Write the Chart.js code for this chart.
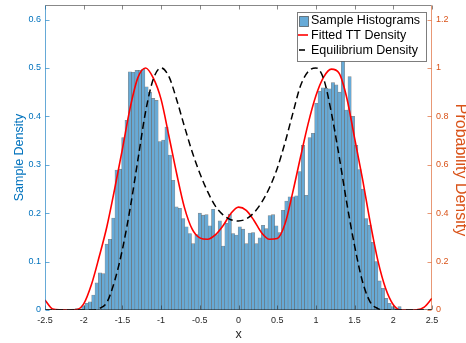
<!DOCTYPE html>
<html>
<head>
<meta charset="utf-8">
<script src="https://cdn.jsdelivr.net/npm/chart.js@4/dist/chart.umd.min.js"></script>
<style>
  html, body { margin: 0; padding: 0; background: #ffffff; }
  #wrap { width: 466px; height: 343px; }
</style>
</head>
<body>
<div id="wrap"><canvas id="c" width="466" height="343"></canvas></div>
<script>
// ---- histogram of samples (left axis) ----
const binStart = -2.155;     // left edge of the first bin
const binWidth = 0.043;      // common bin width
const sampleDensity = [
  0.002, 0.003, 0.002, 0.009, 0.014, 0.017, 0.031, 0.056, 0.077, 0.075,
  0.136, 0.146, 0.190, 0.289, 0.291, 0.356, 0.392, 0.492, 0.491, 0.495,
  0.495, 0.497, 0.461, 0.450, 0.437, 0.433, 0.348, 0.351, 0.378, 0.320,
  0.268, 0.213, 0.210, 0.189, 0.172, 0.158, 0.137, 0.156, 0.200, 0.196,
  0.197, 0.174, 0.208, 0.156, 0.184, 0.132, 0.179, 0.198, 0.158, 0.155,
  0.172, 0.167, 0.137, 0.159, 0.160, 0.137, 0.149, 0.175, 0.168, 0.195,
  0.197, 0.174, 0.160, 0.206, 0.225, 0.234, 0.234, 0.236, 0.286, 0.340,
  0.237, 0.356, 0.365, 0.427, 0.452, 0.459, 0.458, 0.457, 0.470, 0.465,
  0.450, 0.516, 0.413, 0.482, 0.400, 0.340, 0.290, 0.250, 0.189, 0.175,
  0.140, 0.100, 0.060, 0.045, 0.024, 0.014, 0.007, 0.003, 0.007
];

// ---- density curves (right axis) ----
const curveX = [
  -2.5, -2.4, -2.3, -2.2, -2.1, -2.0, -1.9, -1.8, -1.7, -1.6,
  -1.5, -1.4, -1.3, -1.2, -1.1, -1.0, -0.9, -0.8, -0.7, -0.6,
  -0.5, -0.4, -0.3, -0.2, -0.1, 0.0, 0.1, 0.2, 0.3, 0.4,
  0.5, 0.6, 0.7, 0.8, 0.9, 1.0, 1.1, 1.2, 1.3, 1.4,
  1.5, 1.6, 1.7, 1.8, 1.9, 2.0, 2.1, 2.2, 2.3, 2.4, 2.5
];
const fittedTT = [
  0.041, 0.004, 0.001, 0.000, 0.001, 0.025, 0.105, 0.220, 0.345, 0.500,
  0.665, 0.835, 0.960, 1.000, 0.958, 0.870, 0.720, 0.565, 0.425, 0.335,
  0.298, 0.292, 0.310, 0.348, 0.398, 0.425, 0.412, 0.370, 0.318, 0.292,
  0.295, 0.355, 0.485, 0.630, 0.770, 0.885, 0.962, 0.995, 0.978, 0.875,
  0.710, 0.545, 0.365, 0.205, 0.090, 0.022, 0.000, 0.000, 0.001, 0.012, 0.048
];
const equilibrium = [
  0.000, 0.000, 0.000, 0.000, 0.000, 0.000, 0.000, 0.006, 0.032, 0.120,
  0.250, 0.420, 0.620, 0.820, 0.955, 1.000, 0.965, 0.870, 0.760, 0.655,
  0.565, 0.490, 0.430, 0.393, 0.373, 0.368, 0.376, 0.402, 0.445, 0.505,
  0.585, 0.690, 0.810, 0.925, 0.985, 1.000, 0.955, 0.815, 0.635, 0.440,
  0.265, 0.120, 0.034, 0.006, 0.000, 0.000, 0.000, 0.000, 0.000, 0.000, 0.000
];

// ---- axis ticks ----
const xTicks = [-2.5, -2, -1.5, -1, -0.5, 0, 0.5, 1, 1.5, 2, 2.5];
const leftTicks = [0, 0.1, 0.2, 0.3, 0.4, 0.5, 0.6];
const rightTicks = [0, 0.2, 0.4, 0.6, 0.8, 1, 1.2];

const legendLabels = ['Sample Histograms', 'Fitted TT Density', 'Equilibrium Density'];
const rightTitle = 'Probability Density';

const FONT = "'Liberation Sans', Arial, Helvetica, sans-serif";
const BLUE = 'rgb(0,114,189)';
const ORANGE = 'rgb(217,83,25)';
const DARK = '#262626';
const BAR_FILL = 'rgb(102,170,215)';
const BAR_EDGE = 'rgba(38,38,38,0.55)';

const fmt = v => String(+Number(v).toFixed(2));

// frame lines and inward tick marks
const framePlugin = {
  id: 'frame',
  afterDatasetsDraw(chart) {
    const { ctx, chartArea: a, scales } = chart;
    const L = Math.round(a.left) + 0.5, R = Math.round(a.right) - 0.5;
    const T = Math.round(a.top) + 0.5, B = Math.round(a.bottom) - 0.5;
    const tl = 4;
    ctx.save();
    ctx.lineWidth = 1;
    ctx.strokeStyle = 'rgba(38,38,38,0.55)';
    ctx.beginPath();
    ctx.moveTo(L, T); ctx.lineTo(R, T);
    ctx.moveTo(L, B); ctx.lineTo(R, B);
    xTicks.forEach(v => {
      const px = Math.round(scales.x.getPixelForValue(v)) + 0.5;
      ctx.moveTo(px, B); ctx.lineTo(px, B - tl);
      ctx.moveTo(px, T); ctx.lineTo(px, T + tl);
    });
    ctx.stroke();
    ctx.strokeStyle = 'rgba(0,114,189,0.6)';
    ctx.beginPath();
    ctx.moveTo(L, T); ctx.lineTo(L, B);
    leftTicks.forEach(v => {
      const py = Math.round(scales.y.getPixelForValue(v)) + 0.5;
      ctx.moveTo(L, py); ctx.lineTo(L + tl, py);
    });
    ctx.stroke();
    ctx.strokeStyle = 'rgba(217,83,25,0.6)';
    ctx.beginPath();
    ctx.moveTo(R, T); ctx.lineTo(R, B);
    rightTicks.forEach(v => {
      const py = Math.round(scales.y1.getPixelForValue(v)) + 0.5;
      ctx.moveTo(R, py); ctx.lineTo(R - tl, py);
    });
    ctx.stroke();
    ctx.restore();
  }
};

// right-hand axis title, reading top to bottom along the canvas edge
const rightTitlePlugin = {
  id: 'rightTitle',
  afterDraw(chart) {
    const { ctx } = chart;
    ctx.save();
    ctx.translate(460, 170);
    ctx.rotate(Math.PI / 2);
    ctx.fillStyle = ORANGE;
    ctx.font = '16px ' + FONT;
    ctx.textAlign = 'center';
    ctx.textBaseline = 'middle';
    ctx.fillText(rightTitle, 0, 0);
    ctx.restore();
  }
};

// legend box in the upper right corner of the plot
const legendPlugin = {
  id: 'boxLegend',
  afterDraw(chart) {
    const { ctx } = chart;
    const bx = 297.5, by = 12.5, bw = 129, bh = 49;
    ctx.save();
    ctx.fillStyle = '#ffffff';
    ctx.fillRect(bx, by, bw, bh);
    ctx.strokeStyle = 'rgba(38,38,38,0.6)';
    ctx.lineWidth = 1;
    ctx.strokeRect(bx, by, bw, bh);

    const rows = [21, 36, 51];
    ctx.fillStyle = BAR_FILL;
    ctx.fillRect(299.5, 16.5, 9, 10);
    ctx.strokeStyle = BAR_EDGE;
    ctx.strokeRect(299.5, 16.5, 9, 10);
    ctx.strokeStyle = '#ff0000';
    ctx.lineWidth = 1.6;
    ctx.beginPath(); ctx.moveTo(298, 35); ctx.lineTo(308, 35); ctx.stroke();
    ctx.strokeStyle = '#000000';
    ctx.beginPath(); ctx.moveTo(299, 50); ctx.lineTo(305, 50); ctx.stroke();

    ctx.fillStyle = '#000000';
    ctx.font = '12.5px ' + FONT;
    ctx.textBaseline = 'middle';
    ctx.textAlign = 'left';
    legendLabels.forEach((t, i) => ctx.fillText(t, 311, rows[i]));
    ctx.restore();
  }
};

new Chart(document.getElementById('c'), {
  type: 'bar',
  data: {
    datasets: [
      {
        type: 'line',
        label: legendLabels[2],
        data: curveX.map((x, i) => ({ x, y: equilibrium[i] })),
        xAxisID: 'x', yAxisID: 'y1',
        borderColor: '#000000',
        borderWidth: 1.5,
        borderDash: [7, 4],
        pointRadius: 0,
        cubicInterpolationMode: 'monotone',
        fill: false,
        order: 1
      },
      {
        type: 'line',
        label: legendLabels[1],
        data: curveX.map((x, i) => ({ x, y: fittedTT[i] })),
        xAxisID: 'x', yAxisID: 'y1',
        borderColor: '#ff0000',
        borderWidth: 1.6,
        pointRadius: 0,
        cubicInterpolationMode: 'monotone',
        fill: false,
        order: 2
      },
      {
        type: 'bar',
        label: legendLabels[0],
        data: sampleDensity.map((v, i) => ({ x: binStart + binWidth * (i + 0.5), y: v })),
        xAxisID: 'x', yAxisID: 'y',
        backgroundColor: BAR_FILL,
        borderColor: BAR_EDGE,
        borderWidth: 0.6,
        barPercentage: 1,
        categoryPercentage: 1,
        grouped: false,
        order: 3
      }
    ]
  },
  options: {
    responsive: false,
    animation: false,
    devicePixelRatio: 1,
    layout: { padding: { top: 5, left: 0, right: 0, bottom: 0 } },
    plugins: { legend: { display: false }, tooltip: { enabled: false } },
    scales: {
      x: {
        type: 'linear', position: 'bottom', min: -2.5, max: 2.5, offset: false,
        afterBuildTicks: s => { s.ticks = xTicks.map(v => ({ value: v })); },
        ticks: { color: DARK, font: { family: FONT, size: 9 }, padding: 5,
                 maxRotation: 0, autoSkip: false, callback: fmt },
        grid: { display: false, drawTicks: false },
        border: { display: false },
        title: { display: true, text: 'x', color: DARK,
                 font: { family: FONT, size: 12.5 }, padding: { top: 0, bottom: 1 } },
        afterFit: s => { s.height = 33; s.paddingLeft = 0; s.paddingRight = 0; }
      },
      y: {
        type: 'linear', position: 'left', min: 0, max: 0.63,
        afterBuildTicks: s => { s.ticks = leftTicks.map(v => ({ value: v })); },
        ticks: { color: BLUE, font: { family: FONT, size: 9 }, padding: 4, callback: fmt },
        grid: { display: false, drawTicks: false },
        border: { display: false },
        title: { display: true, text: 'Sample Density', color: BLUE,
                 font: { family: FONT, size: 12.5 }, padding: { top: 12.5, bottom: 0 } },
        afterFit: s => { s.width = 45; s.paddingTop = 0; s.paddingBottom = 0; }
      },
      y1: {
        type: 'linear', position: 'right', min: 0, max: 1.26,
        afterBuildTicks: s => { s.ticks = rightTicks.map(v => ({ value: v })); },
        ticks: { color: ORANGE, font: { family: FONT, size: 9 }, padding: 4, callback: fmt },
        grid: { display: false, drawTicks: false },
        border: { display: false },
        title: { display: false },
        afterFit: s => { s.width = 34; s.paddingTop = 0; s.paddingBottom = 0; }
      }
    }
  },
  plugins: [framePlugin, rightTitlePlugin, legendPlugin]
});
</script>
</body>
</html>
